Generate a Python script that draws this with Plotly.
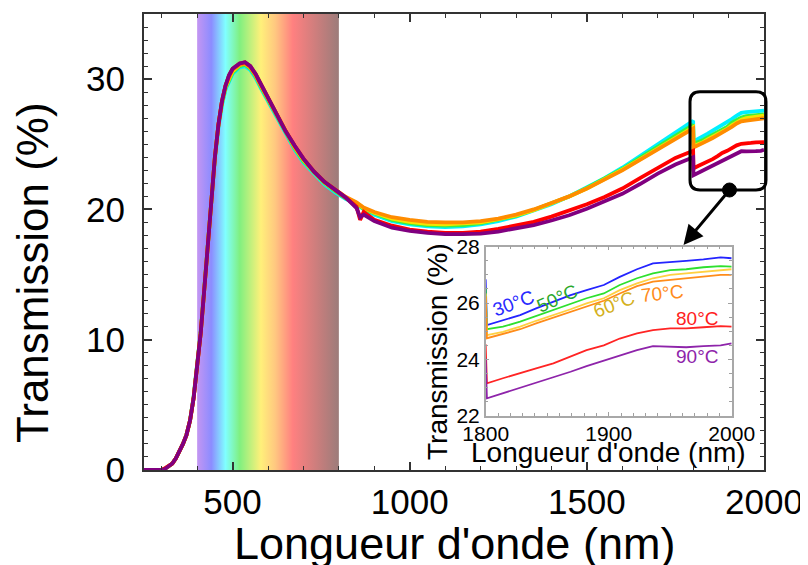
import plotly.graph_objects as go

# ---------------- data ----------------
wl = [250, 300, 310, 320, 330, 340, 350, 360, 370, 380, 390, 400, 410, 420, 430, 440, 450, 460, 470, 480,
      490, 500, 520, 535, 550, 565, 580, 600, 625, 650, 675, 700, 730, 760, 790, 820,
      850, 860, 870, 900, 950, 1000, 1050, 1100, 1150, 1200, 1250, 1300, 1350, 1400, 1450, 1500, 1550, 1600,
      1650, 1700, 1750, 1800,
      1801, 1814, 1828, 1841, 1855, 1869, 1882, 1896, 1909, 1923, 1936, 1950, 1963, 1977, 1991, 2000]

t30 = [0, 0, 0.1, 0.3, 0.5, 0.9, 1.4, 2.0, 2.7, 3.8, 5.6, 7.9, 10.6, 13.9, 17.3, 20.8, 23.9, 26.3, 28.0, 29.2,
       29.9, 30.4, 30.9, 31.0, 30.7, 30.1, 29.3, 28.3, 27.0, 25.7, 24.6, 23.6, 22.7, 21.9, 21.3, 20.8,
       20.4, 20.2, 20.0, 19.6, 19.1, 18.85, 18.7, 18.65, 18.7, 18.85, 19.1, 19.45, 19.9, 20.4, 21.0, 21.7, 22.4, 23.2,
       24.1, 25.0, 25.9, 26.8,
       25.22, 25.4, 25.57, 25.81, 26.05, 26.28, 26.46, 26.64, 26.93, 27.2, 27.41, 27.47, 27.5, 27.55, 27.62, 27.59]
t50 = [0, 0, 0.1, 0.3, 0.5, 0.9, 1.4, 2.0, 2.7, 3.8, 5.6, 7.9, 10.6, 13.9, 17.3, 20.8, 23.9, 26.4, 28.1, 29.3,
       30.0, 30.5, 31.0, 31.1, 30.8, 30.2, 29.4, 28.4, 27.1, 25.8, 24.7, 23.7, 22.8, 22.0, 21.4, 20.85,
       20.45, 20.25, 20.05, 19.7, 19.2, 18.95, 18.8, 18.75, 18.8, 18.95, 19.2, 19.5, 19.95, 20.45, 21.0, 21.65, 22.35, 23.1,
       23.95, 24.8, 25.65, 26.5,
       25.07, 25.16, 25.34, 25.54, 25.75, 25.96, 26.17, 26.34, 26.64, 26.88, 27.05, 27.17, 27.2, 27.27, 27.31, 27.29]
t60 = [0, 0, 0.1, 0.3, 0.5, 0.9, 1.4, 2.0, 2.7, 3.8, 5.5, 7.8, 10.5, 13.8, 17.2, 20.8, 24.0, 26.5, 28.2, 29.4,
       30.1, 30.6, 31.1, 31.2, 30.9, 30.3, 29.5, 28.5, 27.2, 25.9, 24.8, 23.8, 22.85, 22.05, 21.45, 20.9,
       20.5, 20.3, 20.1, 19.75, 19.3, 19.05, 18.9, 18.85, 18.9, 19.0, 19.25, 19.55, 19.95, 20.45, 21.0, 21.6, 22.3, 23.05,
       23.85, 24.65, 25.45, 26.3,
       24.86, 24.98, 25.16, 25.37, 25.57, 25.78, 25.99, 26.17, 26.46, 26.7, 26.88, 27.0, 27.05, 27.11, 27.17, 27.2]
t70 = [0, 0, 0.15, 0.3, 0.5, 0.9, 1.4, 2.0, 2.7, 3.8, 5.5, 7.8, 10.5, 13.8, 17.2, 20.8, 24.0, 26.5, 28.3, 29.5,
       30.2, 30.7, 31.1, 31.2, 30.9, 30.3, 29.5, 28.5, 27.2, 25.9, 24.8, 23.85, 22.9, 22.1, 21.5, 20.95,
       20.55, 20.35, 20.15, 19.8, 19.4, 19.2, 19.05, 19.0, 19.0, 19.1, 19.3, 19.6, 20.0, 20.5, 21.0, 21.6, 22.3, 23.0,
       23.8, 24.6, 25.4, 26.2,
       24.75, 24.9, 25.07, 25.28, 25.48, 25.69, 25.89, 26.08, 26.34, 26.6, 26.76, 26.82, 26.88, 26.93, 27.0, 27.0]
t80 = [0, 0, 0.15, 0.3, 0.5, 0.9, 1.4, 2.0, 2.7, 3.8, 5.5, 7.8, 10.5, 13.8, 17.2, 20.8, 24.0, 26.5, 28.3, 29.5,
       30.3, 30.8, 31.2, 31.3, 31.0, 30.4, 29.6, 28.6, 27.3, 26.0, 24.9, 23.9, 22.9, 22.1, 21.5, 20.9,
       20.2, 19.2, 19.8, 19.2, 18.75, 18.45, 18.3, 18.2, 18.2, 18.3, 18.5, 18.75, 19.05, 19.45, 19.9, 20.4, 20.95, 21.6,
       22.4, 23.2, 23.95, 24.5,
       23.15, 23.33, 23.5, 23.68, 23.86, 24.09, 24.33, 24.5, 24.74, 24.92, 25.04, 25.1, 25.1, 25.14, 25.18, 25.16]
t90 = [0, 0, 0.1, 0.3, 0.5, 0.9, 1.4, 2.0, 2.7, 3.8, 5.5, 7.8, 10.5, 13.8, 17.2, 20.8, 24.0, 26.5, 28.3, 29.5,
       30.3, 30.8, 31.2, 31.3, 31.0, 30.4, 29.6, 28.6, 27.3, 26.0, 24.9, 23.9, 22.9, 22.1, 21.5, 20.9,
       20.1, 19.4, 19.6, 19.1, 18.6, 18.35, 18.2, 18.1, 18.1, 18.15, 18.3, 18.55, 18.8, 19.15, 19.55, 20.05, 20.6, 21.2,
       21.95, 22.75, 23.45, 24.0,
       22.62, 22.8, 22.97, 23.15, 23.36, 23.56, 23.76, 23.95, 24.15, 24.33, 24.47, 24.45, 24.43, 24.47, 24.5, 24.57]

series = [t30, t50, t60, t70, t80, t90]
temp_labels = ["30°C", "50°C", "60°C", "70°C", "80°C", "90°C"]
main_colors = ["#00f0ff", "#3cf03c", "#f5e400", "#ff8c00", "#ff0000", "#800080"]
inset_colors = ["#2424ff", "#2ee02e", "#ffd040", "#ff8c1a", "#ff2424", "#8e24aa"]
label_colors = ["#2a2aff", "#2aa82a", "#d4b020", "#ff8c1a", "#ff2020", "#8e24aa"]

# visible spectrum band (nm) and its colours
band_range = [400, 800]
band_stops = [400, 440, 480, 520, 580, 620, 670, 800]
band_cols = ["#c496f2", "#8c8cff", "#80ffff", "#80f080", "#fff07a", "#ffc880", "#ff8080", "#9c7c7a"]

x_ticks_main = [500, 1000, 1500, 2000]
y_ticks_main = [0, 10, 20, 30]
x_ticks_inset = [1800, 1900, 2000]
y_ticks_inset = [22, 24, 26, 28]

FONT = "Liberation Sans, Arial, sans-serif"
OFF = 8                      # page body margin of the html page
W, H = 808 - OFF, 565 - OFF
L, T = 144 - OFF, 14 - OFF
PW, PH = 620, 456
R, B = W - L - PW, H - T - PH


def px(xp):
    """screen x (reference pixels) -> paper fraction"""
    return (xp - OFF - L) / PW


def py(yp):
    """screen y (reference pixels) -> paper fraction"""
    return (T + PH - (yp - OFF)) / PH


fig = go.Figure()

# spectrum band
b0, b1 = band_range
fig.add_trace(go.Scatter(
    x=[b0, b1, b1, b0, b0], y=[0, 0, 35, 35, 0], mode="lines", line=dict(width=0),
    fill="toself",
    fillgradient=dict(type="horizontal",
                      colorscale=[[(s - b0) / (b1 - b0), c] for s, c in zip(band_stops, band_cols)]),
    hoverinfo="skip", showlegend=False))

# main curves
for s, c, n in zip(series, main_colors, temp_labels):
    fig.add_trace(go.Scatter(x=wl, y=s, mode="lines", line=dict(color=c, width=3.8),
                             name=n, showlegend=False))

# inset curves
for s, c, n in zip(series, inset_colors, temp_labels):
    fig.add_trace(go.Scatter(x=wl, y=s, mode="lines", line=dict(color=c, width=1.8),
                             name=n, showlegend=False, xaxis="x2", yaxis="y2"))

axis_col = "#333333"
fig.update_layout(
    width=W, height=H, margin=dict(l=L, r=R, t=T, b=B, autoexpand=False),
    paper_bgcolor="white", plot_bgcolor="white",
    font=dict(family=FONT, color="black"),
    xaxis=dict(range=[250, 2000], tickvals=x_ticks_main, ticks="inside", ticklen=8, tickwidth=1.5,
               tickcolor=axis_col, showline=True, linecolor=axis_col, linewidth=2, mirror="ticks",
               showgrid=False, zeroline=False, tickfont=dict(size=35, family=FONT),
               ticklabelstandoff=0, automargin=False,
               minor=dict(ticks="inside", dtick=100, tick0=0, ticklen=4, tickwidth=1.2, tickcolor=axis_col)),
    yaxis=dict(range=[0, 35], tickvals=y_ticks_main, ticks="inside", ticklen=8, tickwidth=1.5,
               tickcolor=axis_col, showline=True, linecolor=axis_col, linewidth=2, mirror="ticks",
               showgrid=False, zeroline=False, tickfont=dict(size=35, family=FONT),
               ticklabelstandoff=10, automargin=False,
               minor=dict(ticks="inside", dtick=1, tick0=0, ticklen=4, tickwidth=1.2, tickcolor=axis_col)),
    xaxis2=dict(domain=[px(485.7), px(731.7)], anchor="y2", range=[1800, 2000], tickvals=x_ticks_inset,
                ticks="inside", ticklen=4, tickcolor="#a0a0a0", showline=True, linecolor="#a8a8a8",
                linewidth=1.5, mirror="ticks", showgrid=False, zeroline=False,
                tickfont=dict(size=21, family=FONT), ticklabelstandoff=-2, automargin=False,
                minor=dict(ticks="inside", dtick=10, tick0=1800, ticklen=3, tickcolor="#a0a0a0")),
    yaxis2=dict(domain=[py(415.7), py(246.7)], anchor="x2", range=[22, 28], tickvals=y_ticks_inset,
                ticks="inside", ticklen=4, tickcolor="#a0a0a0", showline=True, linecolor="#a8a8a8",
                linewidth=1.5, mirror="ticks", showgrid=False, zeroline=False,
                tickfont=dict(size=21, family=FONT), ticklabelstandoff=0, automargin=False,
                minor=dict(ticks="inside", dtick=0.5, tick0=22, ticklen=3, tickcolor="#a0a0a0")),
)

# axis titles as annotations
anns = [
    dict(text="Longueur d'onde (nm)", x=0.5, y=py(543), xref="paper", yref="paper",
         xanchor="center", yanchor="middle", showarrow=False, font=dict(size=45, family=FONT)),
    dict(text="Transmission (%)", x=px(32.5), y=py(272.5), xref="paper", yref="paper", textangle=-90,
         xanchor="center", yanchor="middle", showarrow=False, font=dict(size=44, family=FONT)),
    dict(text="Longueur d'onde (nm)", x=px(608.7), y=py(452), xref="paper", yref="paper",
         xanchor="center", yanchor="middle", showarrow=False, font=dict(size=28, family=FONT)),
    dict(text="Transmission (%)", x=px(437.5), y=py(351.5), xref="paper", yref="paper", textangle=-90,
         xanchor="center", yanchor="middle", showarrow=False, font=dict(size=28, family=FONT)),
]

# temperature labels in inset (data coords of inset)
lab_pos = [(1822, 26.0, -20), (1858, 26.17, -24), (1904, 25.93, -21), (1943, 26.35, -6),
           (1971.5, 25.46, 0), (1971.5, 24.1, 0)]
for (lx, ly, ang), t, c in zip(lab_pos, temp_labels, label_colors):
    anns.append(dict(text=t, x=lx, y=ly, xref="x2", yref="y2", textangle=ang, showarrow=False,
                     xanchor="center", yanchor="middle", font=dict(size=19, family=FONT, color=c)))

# arrow from zoom box to inset
anns.append(dict(text="", x=px(683.5), y=py(245), xref="paper", yref="paper", ax=46, ay=-55,
                 showarrow=True, arrowhead=2, arrowsize=1.3, arrowwidth=3, arrowcolor="black"))
fig.update_layout(annotations=anns)

# rounded zoom box + dot
x0, x1, y0, y1 = px(690), px(766), py(190), py(91.7)
rx, ry = 10 / PW, 10 / PH
path = (f"M {x0+rx},{y1} L {x1-rx},{y1} Q {x1},{y1} {x1},{y1-ry} L {x1},{y0+ry} Q {x1},{y0} {x1-rx},{y0} "
        f"L {x0+rx},{y0} Q {x0},{y0} {x0},{y0+ry} L {x0},{y1-ry} Q {x0},{y1} {x0+rx},{y1} Z")
fig.add_shape(type="path", path=path, xref="paper", yref="paper", line=dict(color="black", width=3))
fig.add_shape(type="circle", xref="paper", yref="paper", x0=px(722.5), x1=px(736.5), y0=py(197), y1=py(183),
              fillcolor="black", line=dict(color="black", width=1))

fig.write_html("out.html")
